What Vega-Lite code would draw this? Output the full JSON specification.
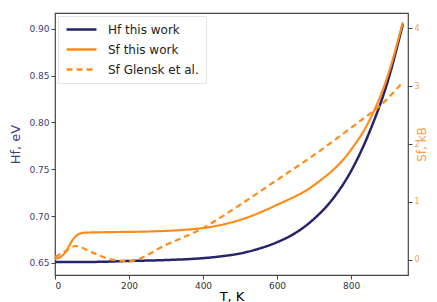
{
  "$schema": "https://vega.github.io/schema/vega-lite/v6.json",
  "width": 353,
  "height": 262,
  "autosize": {"type": "none"},
  "padding": {"left": 55, "top": 13, "right": 29, "bottom": 27},
  "background": "white",
  "config": {
    "font": "DejaVu Sans",
    "view": {"stroke": "#444", "strokeWidth": 1.2},
    "axis": {"grid": false, "domain": false, "tickColor": "#444", "tickSize": 4, "labelFontSize": 9, "titleFontSize": 12, "titleFontWeight": "normal"}
  },
  "data": {
    "values": [
      {"T": 0, "v": 0.651, "s": "Hf this work"},
      {"T": 100, "v": 0.651, "s": "Hf this work"},
      {"T": 200, "v": 0.652, "s": "Hf this work"},
      {"T": 300, "v": 0.653, "s": "Hf this work"},
      {"T": 400, "v": 0.655, "s": "Hf this work"},
      {"T": 450, "v": 0.657, "s": "Hf this work"},
      {"T": 500, "v": 0.660, "s": "Hf this work"},
      {"T": 550, "v": 0.665, "s": "Hf this work"},
      {"T": 600, "v": 0.672, "s": "Hf this work"},
      {"T": 650, "v": 0.682, "s": "Hf this work"},
      {"T": 700, "v": 0.697, "s": "Hf this work"},
      {"T": 750, "v": 0.718, "s": "Hf this work"},
      {"T": 800, "v": 0.748, "s": "Hf this work"},
      {"T": 850, "v": 0.790, "s": "Hf this work"},
      {"T": 900, "v": 0.845, "s": "Hf this work"},
      {"T": 940, "v": 0.905, "s": "Hf this work"},
      {"T": 0, "v": 0.02, "s": "Sf this work"},
      {"T": 15, "v": 0.05, "s": "Sf this work"},
      {"T": 30, "v": 0.15, "s": "Sf this work"},
      {"T": 45, "v": 0.32, "s": "Sf this work"},
      {"T": 60, "v": 0.43, "s": "Sf this work"},
      {"T": 80, "v": 0.47, "s": "Sf this work"},
      {"T": 150, "v": 0.48, "s": "Sf this work"},
      {"T": 250, "v": 0.49, "s": "Sf this work"},
      {"T": 350, "v": 0.52, "s": "Sf this work"},
      {"T": 400, "v": 0.55, "s": "Sf this work"},
      {"T": 500, "v": 0.69, "s": "Sf this work"},
      {"T": 600, "v": 0.95, "s": "Sf this work"},
      {"T": 700, "v": 1.29, "s": "Sf this work"},
      {"T": 800, "v": 1.90, "s": "Sf this work"},
      {"T": 850, "v": 2.41, "s": "Sf this work"},
      {"T": 900, "v": 3.19, "s": "Sf this work"},
      {"T": 940, "v": 4.10, "s": "Sf this work"},
      {"T": 0, "v": 0.05, "s": "Sf Glensk et al."},
      {"T": 30, "v": 0.16, "s": "Sf Glensk et al."},
      {"T": 55, "v": 0.24, "s": "Sf Glensk et al."},
      {"T": 100, "v": 0.13, "s": "Sf Glensk et al."},
      {"T": 150, "v": 0.01, "s": "Sf Glensk et al."},
      {"T": 200, "v": -0.02, "s": "Sf Glensk et al."},
      {"T": 300, "v": 0.26, "s": "Sf Glensk et al."},
      {"T": 400, "v": 0.55, "s": "Sf Glensk et al."},
      {"T": 500, "v": 0.95, "s": "Sf Glensk et al."},
      {"T": 600, "v": 1.38, "s": "Sf Glensk et al."},
      {"T": 700, "v": 1.81, "s": "Sf Glensk et al."},
      {"T": 800, "v": 2.28, "s": "Sf Glensk et al."},
      {"T": 900, "v": 2.79, "s": "Sf Glensk et al."},
      {"T": 940, "v": 3.07, "s": "Sf Glensk et al."}
    ]
  },
  "encoding": {
    "x": {"field": "T", "type": "quantitative", "title": "T, K",
      "scale": {"domain": [0, 954], "nice": false, "zero": false},
      "axis": {"values": [0, 200, 400, 600, 800], "titleFontSize": 13, "titlePadding": 0, "labelColor": "#333", "labelPadding": 2}},
    "color": {"field": "s", "type": "nominal",
      "scale": {"domain": ["Hf this work", "Sf this work", "Sf Glensk et al."], "range": ["#25246b", "#ff8c1a", "#ff8c1a"]},
      "legend": {"title": null, "orient": "none", "legendX": 3, "legendY": 3, "symbolType": "M-1,0H5", "symbolSize": 100, "symbolStrokeWidth": 2.5, "labelFontSize": 12, "labelColor": "#222", "rowPadding": 7, "fillColor": "rgba(255,255,255,0.8)", "strokeColor": "#e4e4e4", "padding": 7, "labelOffset": 30}},
    "strokeDash": {"field": "s", "type": "nominal",
      "scale": {"domain": ["Hf this work", "Sf this work", "Sf Glensk et al."], "range": [[1, 0], [1, 0], [6, 4]]},
      "legend": null}
  },
  "layer": [
    {
      "transform": [{"filter": "datum.s == 'Hf this work'"}],
      "mark": {"type": "line", "strokeWidth": 2.5, "interpolate": "monotone"},
      "encoding": {
        "y": {"field": "v", "type": "quantitative", "title": "Hf, eV",
          "scale": {"domain": [0.637, 0.917], "nice": false, "zero": false},
          "axis": {"values": [0.65, 0.7, 0.75, 0.8, 0.85, 0.9], "format": ".2f", "labelColor": "#3d3d80", "titleColor": "#3d3d80", "titlePadding": 6, "titleFontSize": 13}}
      }
    },
    {
      "transform": [{"filter": "datum.s != 'Hf this work'"}],
      "mark": {"type": "line", "strokeWidth": 2.2, "interpolate": "monotone"},
      "encoding": {
        "y": {"field": "v", "type": "quantitative", "title": "Sf, kB",
          "scale": {"domain": [-0.26, 4.26], "nice": false, "zero": false},
          "axis": {"orient": "right", "values": [0, 1, 2, 3, 4], "format": "d", "labelColor": "#f7a04a", "titleColor": "#f7a04a", "titleAngle": 270, "titlePadding": 9, "labelFontSize": 8, "titleFontSize": 12}}
      }
    }
  ],
  "resolve": {"scale": {"y": "independent"}}
}
